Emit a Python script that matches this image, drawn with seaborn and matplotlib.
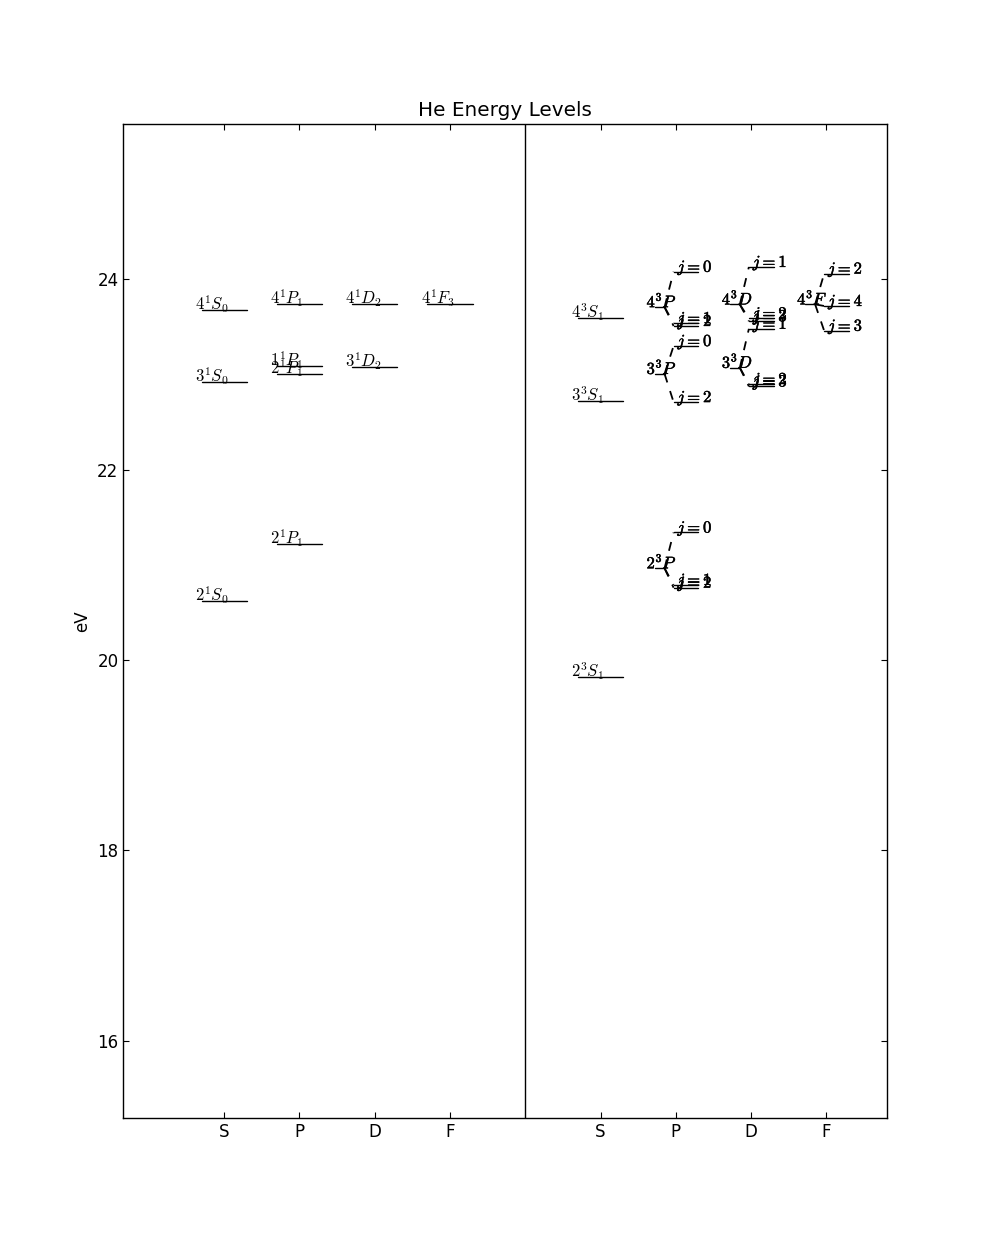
import matplotlib
matplotlib.use("Agg")
import matplotlib.pyplot as plt
import matplotlib.patheffects as pe
import numpy as np
import pandas as pd
import seaborn as sns

# ---------------- data ----------------
orbitals = ["S", "P", "D", "F"]

# singlet levels (left panel)
singlet_L = ["S", "S", "S", "P", "P", "P", "P", "D", "D", "F"]
singlet_E = [20.616, 22.920, 23.674, 21.218, 23.003, 23.087, 23.742, 23.074, 23.736, 23.737]
singlet_labels = [r"$2^1S_0$", r"$3^1S_0$", r"$4^1S_0$", r"$2^1P_1$", r"$2^1P_1$",
                  r"$1^1P_1$", r"$4^1P_1$", r"$3^1D_2$", r"$4^1D_2$", r"$4^1F_3$"]

# triplet S levels (right panel)
tripS_E = [19.820, 22.718, 23.594]
tripS_labels = [r"$2^3S_1$", r"$3^3S_1$", r"$4^3S_1$"]

# triplet terms with (exaggerated) fine structure
trip_L = ["P", "P", "P", "D", "D", "F"]
trip_labels = [r"$2^3P$", r"$3^3P$", r"$4^3P$", r"$3^3D$", r"$4^3D$", r"$4^3F$"]
trip_center = [20.964, 23.007, 23.708, 23.071, 23.736, 23.737]
trip_j = [[0, 1, 2], [0, 2], [0, 1, 2], [1, 2, 3], [1, 2, 3], [2, 3, 4]]
trip_jE = [[21.34, 20.79, 20.76], [23.30, 22.71], [24.08, 23.54, 23.51],
           [23.48, 22.90, 22.875], [24.13, 23.59, 23.56], [24.06, 23.46, 23.72]]

# ---------------- style ----------------
sns.set_style("ticks")
plt.rcParams.update({
    "font.family": ["DejaVu Sans"],
    "font.size": 12,
    "mathtext.fontset": "cm",
    "text.color": "black", "axes.labelcolor": "black",
    "xtick.direction": "in", "ytick.direction": "in",
    "xtick.top": True, "ytick.right": True,
    "xtick.major.size": 4, "ytick.major.size": 4,
    "xtick.major.width": 0.8, "ytick.major.width": 0.8,
    "xtick.labelsize": 12, "ytick.labelsize": 12,
    "axes.linewidth": 1.0, "axes.edgecolor": "black",
    "xtick.color": "black", "ytick.color": "black",
})

fig = plt.figure(figsize=(9.86, 12.42), dpi=100)
ax = fig.add_axes([0.125, 0.1, 0.775, 0.8])

pos = {o: i for i, o in enumerate(orbitals)}
OFF = 5  # triplet panel offset

solid_rows, dash_rows = [], []
sid = 0

def seg(rows, x0, x1, y0, y1):
    global sid
    rows.append({"x": x0, "E": y0, "seg": sid, "o": 0})
    rows.append({"x": x1, "E": y1, "seg": sid, "o": 1})
    sid += 1

texts = []
for L, E, lab in zip(singlet_L, singlet_E, singlet_labels):
    x = pos[L]
    seg(solid_rows, x - 0.3, x + 0.3, E, E)
    texts.append((x - 0.39, E, lab, False))

for E, lab in zip(tripS_E, tripS_labels):
    x = pos["S"] + OFF
    seg(solid_rows, x - 0.3, x + 0.3, E, E)
    texts.append((x - 0.39, E, lab, False))

for L, lab, Ec, js, jEs in zip(trip_L, trip_labels, trip_center, trip_j, trip_jE):
    x = pos[L] + OFF
    seg(solid_rows, x - 0.28, x - 0.15, Ec, Ec)
    texts.append((x - 0.39, Ec, lab, True))
    for j, Ej in zip(js, jEs):
        seg(dash_rows, x - 0.15, x - 0.03, Ec, Ej)
        seg(solid_rows, x - 0.03, x + 0.3, Ej, Ej)
        texts.append((x + 0.02, Ej, r"$j=%d$" % j, True))

solid = pd.DataFrame(solid_rows)
dash = pd.DataFrame(dash_rows)

sns.lineplot(data=solid, x="x", y="E", units="seg", estimator=None, sort=False,
             color="black", lw=1.0, ax=ax, legend=False)
n_before = len(ax.get_lines())
sns.lineplot(data=dash, x="x", y="E", units="seg", estimator=None, sort=False,
             color="black", lw=1.3, ax=ax, legend=False)
for ln in ax.get_lines()[n_before:]:
    ln.set_linestyle((0, (5, 5)))

ax.axvline(4, color="black", lw=1.0)

for x, y, s, heavy in texts:
    t = ax.text(x, y, s, ha="left", va="baseline", fontsize=12, color="black")
    if heavy:
        t.set_path_effects([pe.withStroke(linewidth=0.35, foreground="black")])

ax.set_xlim(-1.34, 8.81)
ax.set_ylim(15.19, 25.63)
ax.set_xticks([0, 1, 2, 3, 5, 6, 7, 8])
ax.set_xticklabels(orbitals + orbitals)
ax.set_yticks([16, 18, 20, 22, 24])
ax.set_xlabel("")
ax.set_ylabel("eV", fontsize=12)
ax.set_title("He Energy Levels", fontsize=14.4)

fig.savefig("out.png", dpi=100)
